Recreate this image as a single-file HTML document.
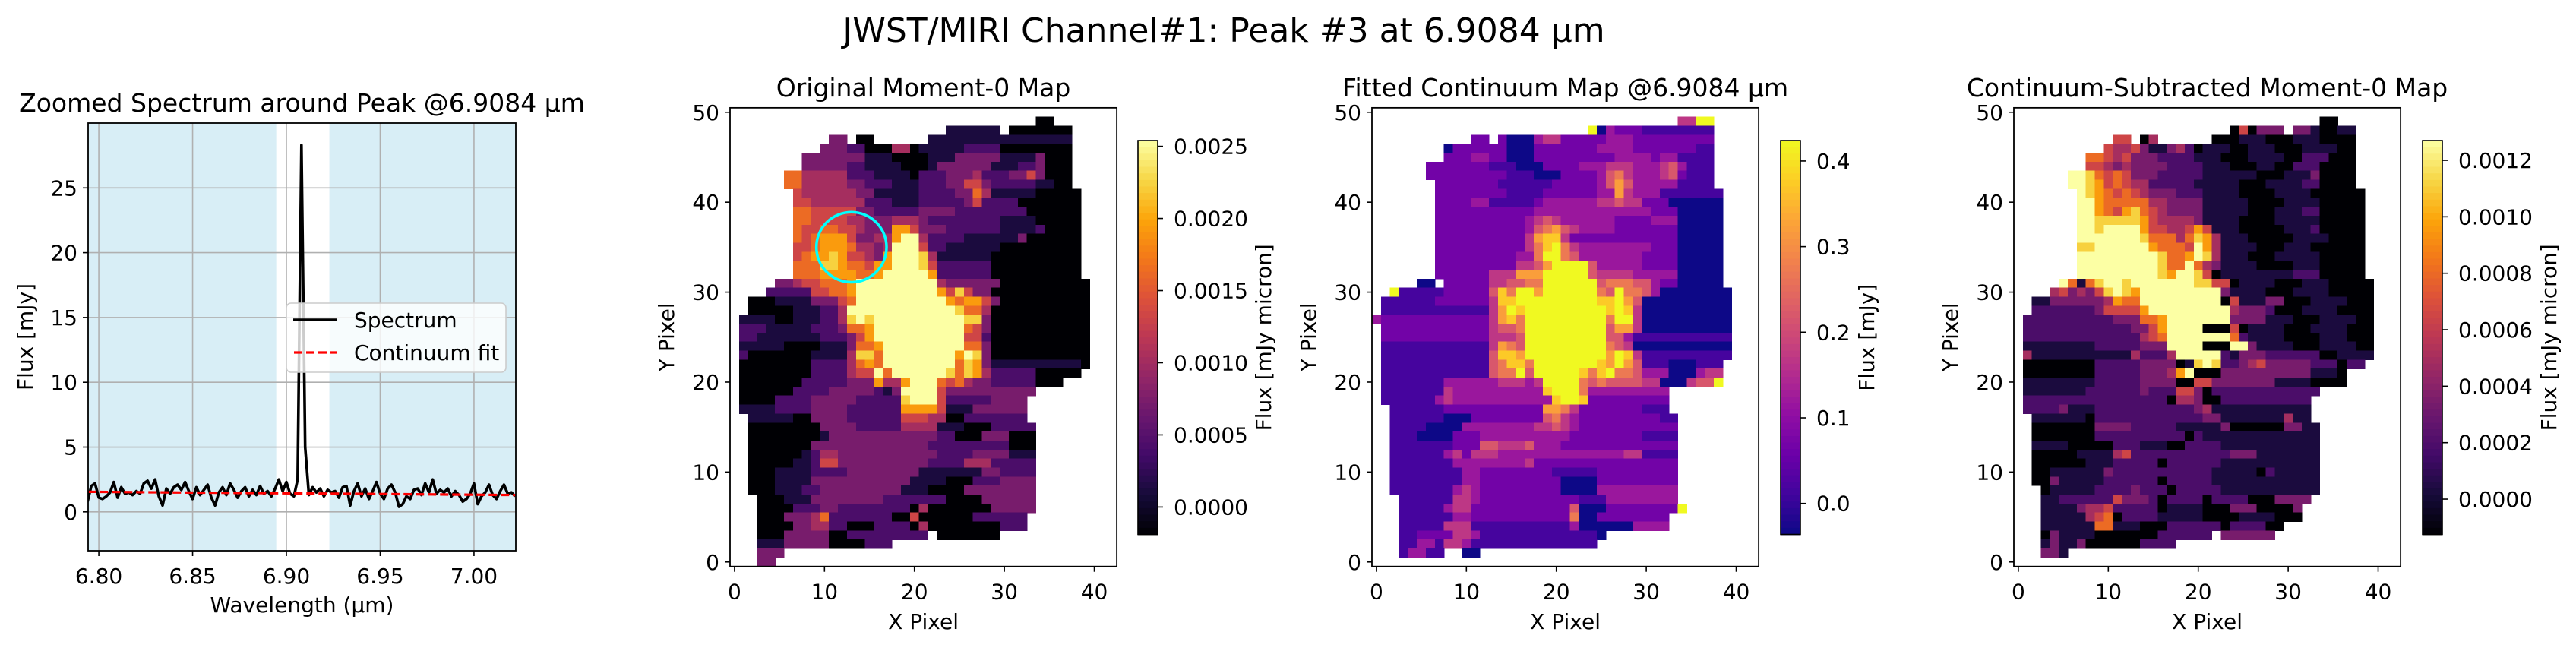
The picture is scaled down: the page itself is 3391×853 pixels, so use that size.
<!DOCTYPE html>
<html><head><meta charset="utf-8"><style>
html,body{margin:0;padding:0;background:#fff;}
svg{display:block;font-family:"DejaVu Sans","Liberation Sans",sans-serif;}
</style></head><body>
<svg id="fig" xmlns="http://www.w3.org/2000/svg" width="3391" height="853" viewBox="0 0 3391 853">
<rect x="0" y="0" width="3391" height="853" fill="#fff"/>
<text x="1611" y="55" font-size="44" text-anchor="middle">JWST/MIRI Channel#1: Peak #3 at 6.9084 µm</text>
</svg>
<script>
// ---------- Spectrum data ----------
const specStart = 6.794;
const specStep = 0.002;
const specFlux = [0.8,2.0,2.2,1.1,1.0,1.2,1.5,2.3,1.1,1.9,
1.4,1.5,1.3,1.6,1.4,2.2,2.4,1.8,2.5,1.2,
0.5,1.8,1.4,1.9,2.1,1.7,2.3,1.6,1.0,1.9,
1.3,1.7,2.1,1.1,0.5,1.5,1.9,1.3,2.2,1.7,
1.1,1.6,1.9,1.2,1.7,1.3,2.0,1.4,1.6,1.2,
1.8,2.5,1.6,2.3,1.4,1.2,2.5,
28.3,5.0,
1.3,1.9,1.5,1.8,1.2,1.7,1.5,1.6,1.1,1.9,
2.0,0.5,1.6,2.2,1.2,1.8,1.0,1.6,2.3,1.4,
1.0,1.8,2.1,1.5,0.4,0.6,1.2,1.0,1.7,1.8,
1.3,2.2,1.5,2.5,1.4,1.7,1.5,1.8,1.2,1.6,
1.3,0.8,1.0,1.4,2.2,0.6,1.2,1.5,2.1,1.3,
1.0,1.6,2.1,1.4,1.5,1.2];
const contWave = [6.794, 7.0223];
const contFlux = [1.55, 1.30];
const shadeRanges = [[6.7943, 6.8946], [6.9229, 7.0223]];
const specXTicks = [6.80, 6.85, 6.90, 6.95, 7.00];
const specXTickLabels = ["6.80","6.85","6.90","6.95","7.00"];
const specYTicks = [0, 5, 10, 15, 20, 25];
const specYTickLabels = ["0","5","10","15","20","25"];

// ---------- Map data (run specs per row, top row y=50 first; "cols:level", level 0-9 of colour range) ----------
const m0Rows = ["",
"34-35:0","24-29:1,31-37:0","11-12:3,14-15:0,22-37:1",
"10-12:3,13-14:2,15-17:0,18-19:4,20:0,21-25:1,26-29:2,30-37:0",
"8-14:3,15-17:1,18-21:0,22-24:1,25-29:3,30-33:1,34:3,35-37:0",
"8-12:3,13-14:2,15-18:1,19-21:0,22:1,23-28:3,29-31:1,32-33:2,34:3,35-37:0",
"6-7:6,8-12:4,13-15:2,16-19:1,20:0,21-23:2,24-26:3,27:4,28-30:2,31-32:3,33:5,34:3,35-37:0",
"6-7:6,8-12:4,13-14:3,15-17:2,18-20:1,21-23:2,24-25:3,26-27:5,28:3,29-33:2,34-35:1,36-37:0",
"7:5,8-13:4,14-15:3,16-20:1,21-24:2,25-26:3,27:6,28:4,29-33:1,34-38:0",
"7-8:5,9-14:4,15-17:2,18-20:1,21-25:2,26:3,27:5,28-31:2,32-38:0",
"7-8:6,9-13:5,14-15:3,16-20:2,21-24:3,25-32:2,33-38:0",
"7-8:6,9-12:5,13-14:4,15-17:3,18-20:4,21:3,22-29:2,30-33:1,34-38:0",
"7:6,8-9:5,10-11:6,12-13:5,14:4,15-17:3,18-19:7,20:5,21-23:3,24-29:2,30-33:1,34:2,35-38:0",
"7:6,8:5,9:6,10-12:7,13:5,14-15:3,16-17:4,18:7,19-20:9,21:4,22-25:2,26-31:1,32:3,33-38:0",
"7-8:5,9:6,10-12:7,13:6,14-15:4,16:3,17:4,18-20:9,21:5,22-23:2,24-29:1,30-38:0",
"7:5,8:6,9-10:7,11:8,12:7,13-14:5,15:4,16:3,17:7,18-20:9,21:8,22:4,23-28:1,29-38:0",
"7-9:6,10-11:8,12:7,13-14:6,15:5,16-17:7,18-20:9,21:8,22:5,23-28:2,29-38:0",
"7-9:6,10-13:7,14-15:6,16:7,17-21:9,22:7,23-28:2,29-38:0",
"5-6:3,7:4,8-9:5,10-12:6,13:7,14-22:9,23:4,24-29:3,30-39:0",
"4-8:2,9-10:5,11-12:6,13:7,14-22:9,23:7,24:5,25:8,26:5,27-28:3,29-39:0",
"2-4:0,5-8:1,9-11:3,12:5,13:6,14-23:9,24:7,25:6,26-27:7,28:5,29:3,30-39:0",
"2-6:0,7-9:1,10-11:2,12:4,13-24:9,25:8,26-27:6,28:4,29-39:0",
"1-4:1,5-6:0,7-9:1,10-11:2,12:4,13:8,14:9,15:8,16-25:9,26-27:8,28:3,29-39:0",
"1-3:2,4-8:1,9-11:2,12:3,13-14:6,15:7,16-25:9,26:6,27:5,28:3,29-39:0",
"1-2:2,3-9:1,10-12:2,13:3,14:5,15:7,16-25:9,26-27:5,28:2,29-39:0",
"1-5:1,6-9:0,10-12:1,13:3,14-15:6,16:7,17-25:9,26-27:6,28:3,29-39:0",
"1:2,2-8:0,9-12:1,13:4,14-15:8,16:6,17-24:9,25:7,26:9,27:8,28:3,29-39:0",
"1-8:0,9-12:2,13:4,14:6,15:7,16:6,17-24:9,25:6,26:8,27:7,28:3,29-38:1,39:0",
"1-8:0,9-12:2,13:4,14-15:5,16:9,17:6,18-23:9,24:8,25:6,26:8,27:7,28:4,29-33:2,34-38:0",
"1-7:0,8-12:2,13-15:3,16:7,17-18:4,19:7,20-22:9,23:6,24:5,25:6,26:4,27-28:3,29-33:2,34-36:0",
"1-6:0,7-10:2,11-15:3,16:2,17:1,18:3,19-22:9,23:5,24-33:3",
"1-4:0,5-8:2,9-13:3,14-18:2,19:8,20-22:9,23:5,24-28:2,29-32:3",
"1-4:1,5-8:2,9-12:3,13-18:2,19-22:7,23:5,24-26:1,27-32:3",
"2-6:1,7-8:0,9-12:3,13-18:2,19-21:5,22-23:4,24-25:0,26-32:2",
"2-9:0,10-13:3,14-18:2,19-22:4,23-25:1,26-28:0,29-33:2",
"2-9:0,10:1,11-16:3,17-22:3,23-24:2,25-27:0,28-30:3,31-33:0",
"2-8:0,9-21:3,22-30:2,31-33:0",
"2-7:0,8:1,9:2,10-11:4,12-17:3,18-22:3,23-26:2,27-30:3,31-33:1",
"2-6:0,7-8:1,9:2,10-11:5,12-16:3,17-21:3,22-25:2,26-28:4,29-33:2",
"2-4:0,5-8:1,9-12:2,13-16:3,17-20:3,21-27:1,28-29:3,30-33:2",
"2-4:0,5-8:1,9-12:3,13-19:3,20-23:1,24-26:0,27-29:2,30-33:3",
"2-4:0,5-7:1,8-9:2,10-13:3,14-18:3,19-21:1,22-25:0,26-33:3",
"3-5:0,6-8:1,9-16:3,17-23:2,24-27:0,28-33:3",
"3-6:0,7-9:2,10-11:3,12-19:2,20:0,21:4,22-28:0,29-33:3",
"3-5:0,6-8:3,9:4,10:6,11-17:2,18-19:0,20:5,21-26:0,27-32:2",
"3-6:0,7-8:3,9-10:4,11-12:2,13-15:0,16-19:2,20:0,21:4,22-29:0,30-32:2",
"3-5:0,6-10:3,11-12:0,13-21:2,23-29:0",
"3-5:1,6-10:3,11-14:0,15-17:2",
"3-5:3","3-4:3"];

const contRows = ["",
"34-35:4,36-37:9","24:9,25:0,26:3,27-29:2,30-37:1",
"11-12:2,14:2,15-17:0,18:3,19-20:4,21-25:2,26-28:3,29-37:2",
"8:0,9-14:2,15-17:0,18-24:2,25-28:3,29-35:2,36-37:1",
"8-10:2,11-12:3,13-14:2,15-17:0,18-26:2,27-30:3,31:2,32-33:3,34-37:1",
"6-12:2,13-15:1,16-18:0,19-22:2,23-25:3,26-28:4,29-31:3,32:4,33:5,34:3,35-37:1",
"6-14:2,15-17:1,18-20:0,21-24:2,25:3,26:5,27:6,28:4,29-31:3,32:4,33:5,34:2,35-37:1",
"7-13:2,14-19:1,20-24:2,25:3,26:5,27:7,28:5,29-33:3,34-37:1",
"7-14:2,15-18:1,19-24:2,25-26:3,27:7,28:4,29-31:3,32-38:1",
"7-10:2,11-12:3,13-17:1,18:2,19-24:3,25-26:4,27:5,28-29:4,30-32:2,33-38:0",
"7-17:2,18:3,19-24:3,25-30:3,31-33:2,34-38:0",
"7-16:2,17:3,18:4,19:5,20:4,21-26:3,27-30:2,31-33:3,34-38:0",
"7-16:2,17:3,18:5,19:6,20:7,21:5,22:4,23-26:3,27-33:2,34-38:0",
"7-16:2,17:4,18:7,19:8,20:8,21:4,22-33:2,34-38:0",
"7-16:2,17:4,18:6,19:8,20:9,21:6,22:4,23-30:3,31-33:2,34-38:0",
"7-15:2,16-17:3,18:6,19-20:9,21:6,22:5,23-29:3,30-33:2,34-38:0",
"7-15:2,16-17:4,18:5,19:7,20-23:9,24:5,25-29:3,30-33:2,34-38:0",
"7-12:2,13-15:4,16-18:7,19-23:9,24:5,25-28:4,29-33:3,34-38:0",
"5-6:0,8-12:2,13-14:4,15-16:5,17-18:6,19-24:9,25:5,26-28:6,29-30:5,31:3,32-33:2,34-38:0",
"2:9,3-7:1,8-12:2,13:5,14:8,15:6,16-17:9,18:7,19-24:9,25:6,26:5,27:9,28-29:6,30:5,31:3,32-39:0",
"1-6:1,7-12:2,13:4,14-15:8,16-24:9,25-26:8,27:9,28:7,29:5,30-39:0",
"1-12:1,13:4,14:7,15:9,16:8,17-25:9,26:8,27:9,28:8,29:4,30-39:0",
"0:3,1-12:2,13:4,14:7,15:8,16:6,17-25:9,26:6,27-28:9,29:4,30-39:0",
"1-12:2,13:4,14-15:5,16:6,17-25:9,26:5,27-28:7,29:4,30-39:0",
"1-12:2,13-15:4,16:5,17-25:9,26-27:5,28:3,29-39:1",
"1-12:1,13:4,14:7,15:6,16:5,17-25:9,26:6,27:5,28:4,29-39:0",
"1-12:1,13:5,14-15:8,16:7,17-25:9,26:7,27:9,28:8,29:4,30-39:1",
"1-12:1,13:5,14:6,15-16:8,17:6,18-24:9,25:8,26:7,27:9,28:7,29:5,30-32:1,33-35:0,36-38:1",
"1-12:1,13:5,14-15:6,16:9,17:5,18-22:9,23:8,24:6,25:8,26:9,27-28:6,29:5,30-32:3,33-35:0,36:3,37-38:4",
"1-7:1,8-13:3,14-16:4,17:3,18:4,19-22:9,23:6,24:5,25:6,26-29:5,30-31:4,32-34:0,35:4,36-37:5,38:9",
"1-7:1,8:4,9-18:3,19:8,20-22:9,23:6,24-32:3",
"1-6:1,7:3,8:4,9-19:3,20:8,21-22:9,23:8,24-32:2",
"2-7:1,8-18:2,19-20:7,21:6,22:4,23-29:2,30-32:1",
"2-7:1,8-10:0,11-18:2,19:5,20:6,21:4,22:3,23-31:2,32-33:1",
"2-5:1,6-9:0,10-17:3,18-19:4,20:5,21:4,22:3,23-33:2",
"2-4:1,5-8:0,9-11:2,12-21:3,22-29:2,30-33:1",
"2-8:1,9-11:2,12-13:5,14-16:4,17:5,18-20:3,21-33:2",
"2-7:1,8:3,9:4,10:2,11-13:4,14-27:3,28-29:4,30-33:1",
"2-8:1,9-16:3,17:4,18-33:2",
"2-9:1,10-11:3,12-19:2,20-24:1,25-33:2",
"2-9:1,10-11:3,12-20:2,21-24:0,25-33:2",
"2-8:1,9:3,10:4,11:3,12-20:2,21-24:0,25-33:3",
"3-8:1,9-10:4,11:3,12-22:2,23-25:1,26-33:3",
"3-7:1,8:3,9-10:4,11-21:2,22:5,23-25:0,26-33:2,34:9",
"3-8:1,9-10:3,11-21:2,22:6,23-24:0,25-32:2",
"3-7:1,8-10:4,11-21:1,22:3,23-28:0,29-32:3",
"3-4:1,5-8:2,9-10:4,11:3,12-24:1,25:0",
"3-4:1,5-6:3,7:1,8-9:4,10:3,11-24:1",
"3:1,4-5:3,6-7:1,10-11:0",""];

const subRows = ["",
"34-35:0","24:0,25:5,26:0,27-29:3,31-32:3,33:1,34-35:0,36-37:1",
"11-12:5,14:0,15:4,22-24:0,25-27:1,28-30:0,31-33:1,34-37:0",
"10:5,11-12:4,13:5,14:3,15-16:1,17:3,18:4,19:2,20:0,21-23:1,24-25:0,26-28:1,29-31:0,32-35:1,36-37:0",
"8-9:6,10:5,11:4,12:5,13-15:3,16-19:2,20-22:1,23-25:0,26-29:1,30-31:0,32-34:2,35-37:0",
"8-9:5,10:4,11:3,12:4,13-16:3,17-20:2,21-23:1,24-26:0,27-28:1,29-30:0,31-33:2,34-37:0",
"6-7:9,8:8,9:6,10:5,11:6,12:5,13-15:3,16-20:2,21-23:1,24-26:1,27-29:0,30-32:1,33:3,34-37:0",
"6-7:9,8:8,9:7,10:5,11:6,12:5,13-14:4,15-19:2,20-24:1,25-27:0,28-31:1,32-33:2,34-37:0",
"7:9,8:8,9:7,10:6,11:5,12:6,13:5,14:4,15-17:3,18-20:2,21-24:1,25-28:0,29-32:1,33-35:0,36-38:0",
"7-8:9,9:7,10-14:6,15-16:4,17-20:3,21-25:1,26-29:0,30-33:1,34-38:0",
"7-8:9,9:7,10:6,11:5,12:7,13:8,14:6,15:5,16:4,17-20:3,21-25:1,26-28:0,29-31:1,32-33:2,34-38:0",
"7-8:9,9-13:8,14:7,15:5,16-19:4,20:3,21-24:1,25-28:0,29-33:1,34-38:0",
"7-8:9,9:8,10-13:9,14:7,15-16:5,17-18:4,19:5,20:7,21:5,22-24:1,25-29:0,30-32:1,33:2,34-38:0",
"7-13:9,14:8,15-17:6,18:4,19:6,20:8,21:7,22:4,23-25:1,26-30:0,31-34:1,35-38:0",
"7-8:8,9-14:9,15:7,16-18:6,19:5,20:9,21:7,22:4,23-26:1,27-29:0,30-32:1,33-38:0",
"7-15:9,16:8,17-18:6,19:7,20:9,21:8,22:4,23-25:1,26-28:0,29-33:1,34-38:0",
"7-15:9,16:8,17-18:6,19:9,20:6,21:4,22:3,23-26:1,27-30:0,31-33:1,34-38:0",
"7-15:9,16:8,17:7,18-19:9,20:8,21:5,22:0,23-27:1,28-30:1,31-33:2,34-38:0",
"5:9,6:6,7:1,8:6,9:8,10-11:9,12:8,13-19:9,20-21:8,22-23:5,24:0,25-28:1,29-31:0,32-34:1,35-39:0",
"4:4,5:5,6:3,7:4,8:3,9:5,10:8,11:9,12:8,13:7,14-22:9,23:3,24-27:1,28-30:0,31-34:1,35-39:0",
"2-3:1,4-9:3,10:4,11:7,12-13:6,14-22:9,23:0,24:5,25-27:1,28-29:3,30-32:0,33-36:1,37-39:0",
"2-8:2,9:3,10-13:5,14:7,15-23:9,24:4,25-27:3,28:2,29-31:0,32-35:1,36-39:0",
"1-10:2,11-13:3,14-15:6,16:7,17-23:9,24-27:3,28-30:1,31-33:0,34-37:1,38-39:0",
"1-12:2,13-14:3,15:5,16:7,17-20:9,21-23:0,24:5,25:0,26-29:1,30-32:0,33-36:1,37-39:0",
"1-13:2,14:4,15:5,16:6,17-23:9,24:6,25:2,26-29:1,30-33:0,34-36:1,37-39:0",
"1-8:1,9-13:2,14-16:3,17-20:9,21-23:0,24-25:9,26:3,27-30:1,31-33:0,34-37:1,38-39:0",
"1:4,2-12:1,13:4,14-16:2,17:4,18-22:9,23:2,24:1,25-27:3,28-33:2,34-35:0,36-39:1",
"1-8:0,9-13:2,14-17:3,18:0,19:1,20:8,21:9,22:8,23-24:2,25:3,26:4,27:5,28-32:3,33-35:2,36:0,37-38:2",
"1-8:0,9-13:2,14-16:3,17:4,18:7,19:9,20-22:0,23-32:3,33-35:1,36:0",
"1-8:1,9-13:2,14-17:3,18-19:0,20-21:5,22-28:3,29-32:1,33-36:0",
"1-7:1,8-13:2,14:3,15-17:2,18-19:5,20:3,21:0,22-33:2",
"1-16:2,17:0,18-19:4,20:3,21-22:0,23-32:2",
"1-4:2,5:3,6-8:1,9-19:2,20:3,21:4,22-32:1",
"2-7:1,8:0,9-20:2,21-22:3,23-29:1,30:4,31-32:1",
"2-8:0,9-12:3,13-17:2,18-22:1,23:3,24-29:0,30-31:3,32-33:1",
"2-8:0,9-18:2,19:0,20:2,21-33:1",
"2-5:1,6-10:0,11-13:2,14-16:1,17-18:0,19-22:2,23-33:1",
"2-6:0,7-10:1,11:4,12:5,13-23:2,24-26:3,27-33:1",
"2-7:0,8-10:1,11-15:2,16:0,17-22:2,23-33:1",
"2-3:0,4-9:1,10:3,11-21:2,22-26:1,27:0,28:2,29-33:1",
"2-3:0,4:3,5-9:1,10-15:2,16:0,17-21:2,22-33:1",
"3:0,4-8:1,9-12:2,13:3,14-16:2,17:0,18-22:2,23-33:1",
"3-4:1,5-10:2,11:5,12-14:3,15:2,16:0,17-20:2,21:0,22-25:2,26-28:0,29-32:3",
"3-6:1,7:3,8-9:4,10:5,11-15:2,16:0,17-20:1,21-23:0,24-26:3,27-30:0,31:3",
"3-7:1,8:4,9:5,10:6,11:0,12-15:2,16-20:1,21-24:0,25-28:1,29-31:0",
"3-8:1,9-10:6,11-13:1,14-16:0,17-22:2,23:0,24-27:2,28-29:0",
"3:0,4:3,5-8:1,9-15:0,16-21:2,23-28:3",
"3:1,4:3,5-6:1,7:3,8-13:0,14-17:2",
"3-4:3,5:1",""];

const m0Range = [-0.00019, 0.00254];
const contRange = [-0.0362, 0.4239];
const subRange = [-0.000125, 0.00127];
const m0CbTicks = [0.0000, 0.0005, 0.0010, 0.0015, 0.0020, 0.0025];
const m0CbLabels = ["0.0000","0.0005","0.0010","0.0015","0.0020","0.0025"];
const contCbTicks = [0.0, 0.1, 0.2, 0.3, 0.4];
const contCbLabels = ["0.0","0.1","0.2","0.3","0.4"];
const subCbTicks = [0.0000, 0.0002, 0.0004, 0.0006, 0.0008, 0.0010, 0.0012];
const subCbLabels = ["0.0000","0.0002","0.0004","0.0006","0.0008","0.0010","0.0012"];
const mapXTicks = [0, 10, 20, 30, 40];
const mapYTicks = [0, 10, 20, 30, 40, 50];
const circleCenter = [13, 35];
const circleRadius = 3.9;

// ---------- helpers ----------
const NS = "http://www.w3.org/2000/svg";
const svg = document.getElementById("fig");
function mk(tag, attrs, parent) {
  const e = document.createElementNS(NS, tag);
  for (const k in attrs) e.setAttribute(k, attrs[k]);
  (parent || svg).appendChild(e);
  return e;
}
function txt(str, attrs, parent) { const t = mk("text", attrs, parent); t.textContent = str; return t; }
const INF = ["#000004","#160b39","#420a68","#6a176e","#932667","#bc3754","#dd513a","#f37819","#fca50a","#f6d746","#fcffa4"];
const PLA = ["#0d0887","#41049d","#6a00a8","#8f0da4","#b12a90","#cc4778","#e16462","#f2844b","#fca636","#fcce25","#f0f921"];
function hx(c){return [parseInt(c.slice(1,3),16),parseInt(c.slice(3,5),16),parseInt(c.slice(5,7),16)];}
function cmap(stops, t) {
  t = Math.max(0, Math.min(1, t));
  const p = t * (stops.length - 1), i = Math.min(Math.floor(p), stops.length - 2), f = p - i;
  const a = hx(stops[i]), b = hx(stops[i + 1]);
  return "rgb(" + a.map((v, k) => Math.round(v + (b[k] - v) * f)).join(",") + ")";
}

// ---------- Panel 1: spectrum ----------
(function(){
  const L = 116, R = 679, T = 162, B = 725;
  const xmin = 6.7943, xmax = 7.0223, ymin = -3.0, ymax = 30.0;
  const X = v => L + (v - xmin) / (xmax - xmin) * (R - L);
  const Y = v => B - (v - ymin) / (ymax - ymin) * (B - T);
  const g = mk("g", {});
  
  
  shadeRanges.forEach(r => {
    const s = mk("rect", {x: X(r[0]), y: T, width: X(r[1]) - X(r[0]), height: B - T, fill: "#d8eef6"}, g);
    
    
  });
  specXTicks.forEach((v, i) => {
    const gl = mk("line", {x1: X(v), x2: X(v), y1: T, y2: B, stroke: "#b0b0b0", "stroke-width": 1.6}, g);
    
    
    mk("line", {x1: X(v), x2: X(v), y1: B, y2: B + 7, stroke: "#000", "stroke-width": 1.6}, g);
    const t = txt(specXTickLabels[i], {x: X(v), y: B + 43, "font-size": 28, "text-anchor": "middle"}, g);
    
    
  });
  specYTicks.forEach((v, i) => {
    const gl = mk("line", {x1: L, x2: R, y1: Y(v), y2: Y(v), stroke: "#b0b0b0", "stroke-width": 1.6}, g);
    
    
    mk("line", {x1: L - 7, x2: L, y1: Y(v), y2: Y(v), stroke: "#000", "stroke-width": 1.6}, g);
    const t = txt(specYTickLabels[i], {x: L - 14, y: Y(v) + 10, "font-size": 28, "text-anchor": "end"}, g);
    
    
  });
  const cp = mk("clipPath", {id: "specclip"}, g);
  mk("rect", {x: L, y: T, width: R - L, height: B - T}, cp);
  const pts = specFlux.map((f, i) => X(specStart + i * specStep).toFixed(1) + "," + Y(f).toFixed(1)).join(" ");
  const line = mk("polyline", {points: pts, fill: "none", stroke: "#000", "stroke-width": 3.6, "stroke-linejoin": "round", "clip-path": "url(#specclip)"}, g);
  
  
  const cl = mk("polyline", {points: contWave.map((w, i) => X(w) + "," + Y(contFlux[i])).join(" "), fill: "none", stroke: "#ff0000", "stroke-width": 3.2, "stroke-dasharray": "11,5", "clip-path": "url(#specclip)"}, g);
  
  
  const fr = mk("rect", {x: L, y: T, width: R - L, height: B - T, fill: "none", stroke: "#000", "stroke-width": 1.8}, g);
  
  
  const lg = mk("g", {}, g);
  
  
  mk("rect", {x: 377, y: 399, width: 289, height: 91, rx: 6, fill: "#fff", "fill-opacity": 0.8, stroke: "#cccccc", "stroke-width": 1.6}, lg);
  mk("line", {x1: 386, x2: 444, y1: 421, y2: 421, stroke: "#000", "stroke-width": 3.6}, lg);
  const l1 = txt("Spectrum", {x: 466, y: 431, "font-size": 28}, lg);
  
  
  mk("line", {x1: 387, x2: 444, y1: 464, y2: 464, stroke: "#ff0000", "stroke-width": 3.2, "stroke-dasharray": "11,5"}, lg);
  const l2 = txt("Continuum fit", {x: 466, y: 474, "font-size": 28}, lg);
  
  
  const tt = txt("Zoomed Spectrum around Peak @6.9084 µm", {x: (L + R) / 2, y: 147, "font-size": 33, "text-anchor": "middle"}, g);
  
  
  const xl = txt("Wavelength (µm)", {x: (L + R) / 2, y: 806, "font-size": 28, "text-anchor": "middle"}, g);
  
  
  const yl = txt("Flux [mJy]", {x: 0, y: 0, "font-size": 28, "text-anchor": "middle", transform: "translate(43," + (T + B) / 2 + ") rotate(-90)"}, g);
  
  
})();

// ---------- Map panels ----------
function drawMap(name, L, rows, range, stops, title, cbx, cbTicks, cbLabels, cbTitle, cbTitleX, circle) {
  const u = 11.84, B = 745.7, T = B - 51 * u, R = L + 43 * u;
  const X = v => L + (v + 0.5) * u;
  const Y = v => B - (v + 0.5) * u;
  const g = mk("g", {});
  
  
  const cells = mk("g", {"shape-rendering": "crispEdges"}, g);
  
  
  rows.forEach((spec, ri) => {
    const yv = 50 - ri;
    if (!spec) return;
    spec.split(",").forEach(part => {
      const [cols, lev] = part.split(":");
      const [a, b] = cols.split("-").map(Number);
      const value = range[0] + Number(lev) / 9 * (range[1] - range[0]);
      for (let c = a; c <= (isNaN(b) ? a : b); c++) {
        const r = mk("rect", {x: (X(c) - u / 2).toFixed(2), y: (Y(yv) - u / 2).toFixed(2), width: u + 0.6, height: u + 0.6,
          fill: cmap(stops, (value - range[0]) / (range[1] - range[0]))}, cells);
        
        
      }
    });
  });
  if (circle) {
    const c = mk("circle", {cx: X(circleCenter[0]), cy: Y(circleCenter[1]), r: circleRadius * u, fill: "none", stroke: "#00ffff", "stroke-width": 3.5}, g);
    
    
  }
  const fr = mk("rect", {x: L, y: T, width: R - L, height: B - T, fill: "none", stroke: "#000", "stroke-width": 1.8}, g);
  
  
  mapXTicks.forEach(v => {
    mk("line", {x1: X(v), x2: X(v), y1: B, y2: B + 7, stroke: "#000", "stroke-width": 1.6}, g);
    const t = txt(String(v), {x: X(v), y: B + 43, "font-size": 28, "text-anchor": "middle"}, g);
    
    
  });
  mapYTicks.forEach(v => {
    mk("line", {x1: L - 7, x2: L, y1: Y(v), y2: Y(v), stroke: "#000", "stroke-width": 1.6}, g);
    const t = txt(String(v), {x: L - 14, y: Y(v) + 10, "font-size": 28, "text-anchor": "end"}, g);
    
    
  });
  const tt = txt(title, {x: (L + R) / 2, y: 127, "font-size": 33, "text-anchor": "middle"}, g);
  
  
  const xl = txt("X Pixel", {x: (L + R) / 2, y: 828, "font-size": 28, "text-anchor": "middle"}, g);
  
  
  const yl = txt("Y Pixel", {x: 0, y: 0, "font-size": 28, "text-anchor": "middle", transform: "translate(" + (L - 74) + "," + (T + B) / 2 + ") rotate(-90)"}, g);
  
  
  const cT = 185, cB = 703.5, cw = 26;
  const CY = v => cB - (v - range[0]) / (range[1] - range[0]) * (cB - cT);
  const cb = mk("g", {}, g);
  
  
  const n = 60;
  for (let i = 0; i < n; i++) {
    mk("rect", {x: cbx, y: cT + (cB - cT) * i / n, width: cw, height: (cB - cT) / n + 0.8, fill: cmap(stops, 1 - (i + 0.5) / n)}, cb);
  }
  mk("rect", {x: cbx, y: cT, width: cw, height: cB - cT, fill: "none", stroke: "#000", "stroke-width": 1.6}, cb);
  cbTicks.forEach((v, i) => {
    mk("line", {x1: cbx + cw, x2: cbx + cw + 7, y1: CY(v), y2: CY(v), stroke: "#000", "stroke-width": 1.6}, cb);
    const t = txt(cbLabels[i], {x: cbx + cw + 21, y: CY(v) + 10, "font-size": 28}, cb);
    
    
  });
  const cl = txt(cbTitle, {x: 0, y: 0, "font-size": 28, "text-anchor": "middle", transform: "translate(" + cbTitleX + "," + (cT + cB) / 2 + ") rotate(-90)"}, cb);
  
  
}
drawMap("original-moment0", 961, m0Rows, m0Range, INF, "Original Moment-0 Map", 1498, m0CbTicks, m0CbLabels, "Flux [mJy micron]", 1673, true);
drawMap("fitted-continuum", 1806, contRows, contRange, PLA, "Fitted Continuum Map @6.9084 µm", 2344, contCbTicks, contCbLabels, "Flux [mJy]", 2467, false);
drawMap("continuum-subtracted", 2651, subRows, subRange, INF, "Continuum-Subtracted Moment-0 Map", 3189, subCbTicks, subCbLabels, "Flux [mJy micron]", 3365, false);
</script>
</body></html>
